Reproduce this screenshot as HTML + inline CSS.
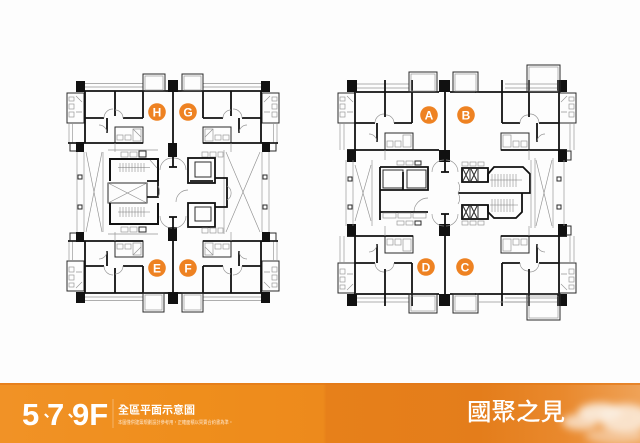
<!DOCTYPE html>
<html><head><meta charset="utf-8">
<style>
html,body{margin:0;padding:0;background:#fdfdfd;}
svg{display:block;}
.k{stroke:#111;stroke-width:1.8;fill:none;}
.m{stroke:#2a2a2a;stroke-width:1;fill:none;}
.t{stroke:#939393;stroke-width:0.65;fill:none;}
.f{fill:#111;}
</style></head>
<body>
<svg width="640" height="443" viewBox="0 0 640 443" xmlns="http://www.w3.org/2000/svg">
<defs>
<linearGradient id="band" x1="0" y1="0" x2="1" y2="0">
<stop offset="0" stop-color="#f19226"/>
<stop offset="0.3" stop-color="#ef8e1c"/>
<stop offset="0.505" stop-color="#ed8a1c"/>
<stop offset="0.51" stop-color="#e7801a"/>
<stop offset="0.75" stop-color="#e47d1b"/>
<stop offset="0.88" stop-color="#e9892d"/>
<stop offset="1" stop-color="#efa257"/>
</linearGradient>
<filter id="blur" x="-50%" y="-50%" width="200%" height="200%"><feGaussianBlur stdDeviation="4"/></filter>

<g id="LQ">
<line class="t" x1="85" y1="83.5" x2="143" y2="83.5"/>
<line class="t" x1="85" y1="87" x2="143" y2="87"/>
<line class="k" x1="84" y1="91" x2="168" y2="91"/>
<rect class="f" x="76" y="81" width="9" height="11"/>
<rect class="m" x="67" y="93" width="17" height="30"/>
<rect class="t" x="69" y="97" width="5" height="4"/>
<rect class="t" x="69" y="104" width="5" height="5"/>
<rect class="t" x="69" y="112" width="5" height="5"/>
<path class="t" d="M76 96 L82 102 M76 112 h6"/>
<line class="t" x1="69" y1="123" x2="69" y2="143"/>
<line class="t" x1="72.5" y1="123" x2="72.5" y2="143"/>
<line class="k" x1="85" y1="91" x2="85" y2="143"/>
<line class="k" x1="115" y1="91" x2="115" y2="116"/>
<line class="k" x1="85" y1="118" x2="104" y2="118"/>
<line class="k" x1="123" y1="118" x2="143" y2="118"/>
<line class="k" x1="143" y1="91" x2="143" y2="118"/>
<line class="k" x1="107" y1="118" x2="107" y2="133"/>
<path class="t" d="M104 118 A9 9 0 0 1 113 109 M123 118 A8 8 0 0 0 115 110 M107 133 A8 8 0 0 0 99 125"/>
<rect class="m" x="115" y="127" width="28" height="16"/>
<rect class="t" x="117" y="135" width="6" height="5"/>
<rect class="t" x="125" y="135" width="6" height="5"/>
<rect class="t" x="133" y="129" width="8" height="12"/>
<path class="t" d="M133 129 L141 137"/>
<line class="k" x1="68" y1="143" x2="143" y2="143"/>
<rect class="f" x="76" y="142" width="8" height="10"/>
<path class="m" d="M76 143 H70 V151 H76"/>
<line class="t" x1="115" y1="143" x2="115" y2="152"/>
</g>

<g id="RQ">
<line class="t" x1="357" y1="84" x2="409" y2="84"/>
<line class="t" x1="357" y1="88" x2="409" y2="88"/>
<line class="k" x1="356" y1="92" x2="439" y2="92"/>
<rect class="f" x="347" y="80" width="10" height="12"/>
<rect class="m" x="338" y="93" width="17" height="30"/>
<rect class="t" x="340" y="97" width="5" height="4"/>
<rect class="t" x="340" y="104" width="5" height="5"/>
<rect class="t" x="340" y="112" width="5" height="5"/>
<path class="t" d="M347 96 L353 102 M347 112 h6"/>
<line class="t" x1="340" y1="123" x2="340" y2="150"/>
<line class="t" x1="344" y1="123" x2="344" y2="150"/>
<line class="k" x1="355" y1="92" x2="355" y2="150"/>
<line class="k" x1="385" y1="80" x2="385" y2="117"/>
<line class="k" x1="355" y1="123" x2="375" y2="123"/>
<line class="k" x1="412" y1="80" x2="412" y2="123"/>
<line class="k" x1="394" y1="123" x2="412" y2="123"/>
<line class="k" x1="377" y1="123" x2="377" y2="142"/>
<path class="t" d="M375 123 A9 9 0 0 1 384 114 M394 123 A8 8 0 0 0 386 115 M377 142 A8 8 0 0 0 369 134"/>
<rect class="m" x="385" y="133" width="28" height="17"/>
<rect class="t" x="387" y="141" width="6" height="6"/>
<rect class="t" x="395" y="141" width="6" height="6"/>
<rect class="t" x="403" y="135" width="8" height="12"/>
<line class="k" x1="347" y1="150" x2="413" y2="150"/>
<rect class="f" x="347" y="150" width="9" height="12"/>
<line class="t" x1="385" y1="150" x2="385" y2="160"/>
</g>
</defs>

<rect x="0" y="0" width="640" height="383" fill="#fdfdfd"/>

<!-- LEFT PLAN -->
<use href="#LQ"/>
<use href="#LQ" transform="translate(346,0) scale(-1,1)"/>
<use href="#LQ" transform="translate(0,384) scale(1,-1)"/>
<use href="#LQ" transform="translate(346,384) scale(-1,-1)"/>

<rect class="m" x="143" y="74" width="22" height="17"/>
<rect class="t" x="145" y="76" width="18" height="14"/>
<rect class="m" x="182" y="74" width="21" height="17"/>
<rect class="t" x="184" y="76" width="17" height="14"/>
<rect class="m" x="143" y="293" width="21" height="19"/>
<rect class="t" x="145" y="295" width="17" height="15"/>
<rect class="m" x="182" y="293" width="21" height="19"/>
<rect class="t" x="184" y="295" width="17" height="15"/>

<line class="k" x1="173" y1="91" x2="173" y2="167"/>
<rect class="f" x="168" y="80" width="10" height="12"/>
<rect class="f" x="168" y="143" width="9" height="14"/>
<line class="k" x1="169" y1="167" x2="177" y2="167"/>
<line class="k" x1="173" y1="217" x2="173" y2="293"/>
<rect class="f" x="168" y="292" width="10" height="12"/>
<rect class="f" x="168" y="227" width="9" height="14"/>
<line class="k" x1="169" y1="217" x2="177" y2="217"/>

<line class="t" x1="77" y1="152" x2="77" y2="232"/>
<line class="t" x1="84" y1="152" x2="84" y2="232"/>
<line class="t" x1="103" y1="152" x2="103" y2="232"/>
<path class="t" d="M86 152 L102 232 M102 152 L86 232"/>
<rect class="m" x="78" y="175" width="4" height="4"/>
<rect class="m" x="78" y="205" width="4" height="4"/>
<line class="t" x1="224" y1="150" x2="224" y2="234"/>
<line class="t" x1="262" y1="152" x2="262" y2="232"/>
<line class="t" x1="269" y1="152" x2="269" y2="232"/>
<path class="t" d="M226 152 L260 232 M260 152 L226 232"/>
<rect class="m" x="263" y="175" width="4" height="4"/>
<rect class="m" x="263" y="205" width="4" height="4"/>

<line class="t" x1="108" y1="150" x2="158" y2="150"/>
<rect class="t" x="121" y="152" width="7" height="5"/>
<rect class="t" x="130" y="152" width="7" height="5"/>
<rect class="m" x="139" y="151" width="7" height="6"/>
<path d="M110 181 V159 H158 V181" fill="none" stroke="#111" stroke-width="2"/>
<path class="t" d="M150 160 L157 168"/>
<g stroke="#777" stroke-width="0.5">
<line x1="118" y1="167.5" x2="150" y2="167.5"/>
<line x1="120" y1="163" x2="120" y2="172"/><line x1="123" y1="163" x2="123" y2="172"/><line x1="126" y1="163" x2="126" y2="172"/><line x1="129" y1="163" x2="129" y2="172"/><line x1="132" y1="163" x2="132" y2="172"/><line x1="135" y1="163" x2="135" y2="172"/><line x1="138" y1="163" x2="138" y2="172"/><line x1="141" y1="163" x2="141" y2="172"/><line x1="144" y1="163" x2="144" y2="172"/>
<line x1="118" y1="212" x2="150" y2="212"/>
<line x1="120" y1="207" x2="120" y2="217"/><line x1="123" y1="207" x2="123" y2="217"/><line x1="126" y1="207" x2="126" y2="217"/><line x1="129" y1="207" x2="129" y2="217"/><line x1="132" y1="207" x2="132" y2="217"/><line x1="135" y1="207" x2="135" y2="217"/><line x1="138" y1="207" x2="138" y2="217"/><line x1="141" y1="207" x2="141" y2="217"/><line x1="144" y1="207" x2="144" y2="217"/>
</g>
<rect class="m" x="108" y="183" width="39" height="20"/>
<path class="t" d="M108 183 L147 203 M147 183 L108 203"/>
<path class="k" d="M147 181 H158 V197 H147"/>
<path d="M110 203 V224 H158 V203" fill="none" stroke="#111" stroke-width="2"/>
<rect class="t" x="121" y="227" width="7" height="5"/>
<rect class="t" x="130" y="227" width="7" height="5"/>
<rect class="m" x="139" y="227" width="7" height="5"/>
<line class="t" x1="108" y1="234" x2="158" y2="234"/>

<rect class="t" x="202" y="152" width="6" height="5"/>
<rect class="t" x="210" y="152" width="6" height="5"/>
<rect class="t" x="218" y="152" width="5" height="5"/>
<rect class="k" x="188" y="158" width="27" height="25"/>
<rect class="m" x="195" y="162" width="16" height="15"/>
<line class="k" x1="190" y1="181" x2="213" y2="181"/>
<path class="k" d="M215 178 H227 V207 H215"/>
<path class="t" d="M227 186 A8 8 0 0 1 227 200"/>
<path class="t" d="M188 190 A12 12 0 0 0 176 202"/>
<rect class="k" x="188" y="203" width="27" height="24"/>
<rect class="m" x="195" y="207" width="16" height="14"/>
<rect class="t" x="202" y="228" width="6" height="5"/>
<rect class="t" x="210" y="228" width="6" height="5"/>
<rect class="t" x="218" y="228" width="5" height="5"/>
<path class="t" d="M160 170 A12 12 0 0 1 172 158 M186 170 A12 12 0 0 0 174 158 M160 216 A12 12 0 0 0 172 228 M186 216 A12 12 0 0 1 174 228 M158 186 A10 10 0 0 1 158 197"/>

<g font-family="Liberation Sans, sans-serif" font-weight="bold" font-size="12" fill="#fff" text-anchor="middle">
<circle cx="157" cy="112" r="8.8" fill="#ee8222"/><text x="157" y="116.3">H</text>
<circle cx="188" cy="112" r="8.8" fill="#ee8222"/><text x="188" y="116.3">G</text>
<circle cx="157" cy="268" r="8.8" fill="#ee8222"/><text x="157" y="272.3">E</text>
<circle cx="188" cy="268" r="8.8" fill="#ee8222"/><text x="188" y="272.3">F</text>
</g>

<!-- RIGHT PLAN -->
<use href="#RQ"/>
<use href="#RQ" transform="translate(914,0) scale(-1,1)"/>
<use href="#RQ" transform="translate(0,386) scale(1,-1)"/>
<use href="#RQ" transform="translate(914,386) scale(-1,-1)"/>
<line class="k" x1="450" y1="92" x2="476" y2="92"/>
<line class="k" x1="450" y1="294" x2="476" y2="294"/>
<line class="k" x1="413" y1="150" x2="439" y2="150"/>

<rect class="m" x="409" y="72" width="28" height="20"/>
<rect class="t" x="411" y="74" width="24" height="17"/>
<rect class="m" x="453" y="72" width="25" height="20"/>
<rect class="t" x="455" y="74" width="21" height="17"/>
<rect class="m" x="527" y="65" width="33" height="27"/>
<rect class="t" x="529" y="67" width="29" height="24"/>
<rect class="m" x="409" y="294" width="28" height="19"/>
<rect class="t" x="411" y="296" width="24" height="15"/>
<rect class="m" x="453" y="294" width="25" height="19"/>
<rect class="t" x="455" y="296" width="21" height="15"/>
<rect class="m" x="527" y="294" width="33" height="26"/>
<rect class="t" x="529" y="296" width="29" height="22"/>
<line class="t" x1="478" y1="302" x2="527" y2="302"/>

<line class="k" x1="445" y1="91" x2="445" y2="172"/>
<rect class="f" x="439" y="80" width="11" height="12"/>
<rect class="f" x="439" y="150" width="11" height="12"/>
<line class="k" x1="441" y1="172" x2="449" y2="172"/>
<line class="k" x1="445" y1="214" x2="445" y2="295"/>
<rect class="f" x="439" y="294" width="11" height="12"/>
<rect class="f" x="439" y="224" width="11" height="12"/>
<line class="k" x1="441" y1="214" x2="449" y2="214"/>

<line class="t" x1="346" y1="160" x2="346" y2="226"/>
<line class="t" x1="353" y1="160" x2="353" y2="226"/>
<line class="t" x1="372" y1="160" x2="372" y2="226"/>
<path class="t" d="M355 165 L371 221 M371 165 L355 221"/>
<rect class="m" x="348" y="177" width="4" height="4"/>
<rect class="m" x="348" y="205" width="4" height="4"/>
<rect class="t" x="397" y="161" width="7" height="4"/>
<rect class="t" x="406" y="161" width="7" height="4"/>
<rect class="m" x="415" y="161" width="6" height="4"/>
<line class="k" x1="380" y1="167" x2="380" y2="220"/>
<path class="k" d="M380 167 H428 V190 H380"/>
<rect class="m" x="383" y="170" width="20" height="18"/>
<rect class="m" x="407" y="170" width="19" height="18"/>
<line class="k" x1="403" y1="172" x2="403" y2="190"/>
<path class="t" d="M428 198 A14 14 0 0 0 414 212"/>
<line class="k" x1="380" y1="212" x2="428" y2="212"/>
<rect class="t" x="383" y="213" width="13" height="5"/>
<rect class="t" x="398" y="213" width="13" height="5"/>
<rect class="t" x="413" y="213" width="13" height="5"/>
<rect class="t" x="397" y="221" width="7" height="4"/>
<rect class="t" x="406" y="221" width="7" height="4"/>
<rect class="m" x="415" y="221" width="6" height="4"/>

<rect class="t" x="462" y="162" width="6" height="4"/>
<rect class="t" x="470" y="162" width="6" height="4"/>
<rect class="t" x="478" y="162" width="6" height="4"/>
<rect class="k" x="462" y="168" width="26" height="14"/>
<path class="m" d="M470 168 V182 M478 168 V182 M463 169 L469 181 M469 169 L463 181 M471 169 L477 181 M477 169 L471 181"/>
<path d="M488 182 V174 L494 167 H523 L530 174 V193" fill="none" stroke="#111" stroke-width="1.8"/>
<line class="k" x1="458" y1="193" x2="531" y2="193"/>
<path d="M488 205 V212 L494 218 H516 L522 212 V193" fill="none" stroke="#111" stroke-width="1.8"/>
<rect class="k" x="462" y="205" width="26" height="14"/>
<path class="m" d="M470 205 V219 M478 205 V219 M463 206 L469 218 M469 206 L463 218 M471 206 L477 218 M477 206 L471 218"/>
<rect class="t" x="462" y="221" width="6" height="4"/>
<rect class="t" x="470" y="221" width="6" height="4"/>
<rect class="t" x="478" y="221" width="6" height="4"/>
<g stroke="#777" stroke-width="0.5">
<line x1="490" y1="180" x2="522" y2="180"/>
<line x1="492" y1="174" x2="492" y2="187"/><line x1="495" y1="174" x2="495" y2="187"/><line x1="498" y1="174" x2="498" y2="187"/><line x1="501" y1="174" x2="501" y2="187"/><line x1="504" y1="174" x2="504" y2="187"/><line x1="507" y1="174" x2="507" y2="187"/><line x1="510" y1="174" x2="510" y2="187"/><line x1="513" y1="174" x2="513" y2="187"/><line x1="516" y1="174" x2="516" y2="187"/>
<line x1="490" y1="205" x2="518" y2="205"/>
<line x1="492" y1="199" x2="492" y2="212"/><line x1="495" y1="199" x2="495" y2="212"/><line x1="498" y1="199" x2="498" y2="212"/><line x1="501" y1="199" x2="501" y2="212"/><line x1="504" y1="199" x2="504" y2="212"/><line x1="507" y1="199" x2="507" y2="212"/><line x1="510" y1="199" x2="510" y2="212"/><line x1="513" y1="199" x2="513" y2="212"/>
</g>
<line class="t" x1="531" y1="160" x2="531" y2="228"/>
<line class="t" x1="535" y1="158" x2="535" y2="228"/>
<line class="t" x1="553" y1="158" x2="553" y2="228"/>
<line class="t" x1="564" y1="160" x2="564" y2="226"/>
<path class="t" d="M536 160 L552 226 M552 160 L536 226"/>
<rect class="m" x="557" y="177" width="4" height="4"/>
<rect class="m" x="557" y="205" width="4" height="4"/>
<path class="m" d="M566 151 H571 V160 H566 M566 226 H571 V235 H566"/>
<path class="t" d="M432 172 A12 12 0 0 1 444 160 M458 172 A12 12 0 0 0 446 160 M432 214 A12 12 0 0 0 444 226 M458 214 A12 12 0 0 1 446 226 M458 182 A10 10 0 0 1 458 193 M458 193 A10 10 0 0 1 458 204"/>

<g font-family="Liberation Sans, sans-serif" font-weight="bold" font-size="12" fill="#fff" text-anchor="middle">
<circle cx="429" cy="115" r="8.8" fill="#ee8222"/><text x="429" y="119.3">A</text>
<circle cx="466" cy="115" r="8.8" fill="#ee8222"/><text x="466" y="119.3">B</text>
<circle cx="426" cy="267" r="8.8" fill="#ee8222"/><text x="426" y="271.3">D</text>
<circle cx="465" cy="267" r="8.8" fill="#ee8222"/><text x="465" y="271.3">C</text>
</g>

<!-- ORANGE BAND -->
<rect x="0" y="383" width="640" height="60" fill="url(#band)"/>
<rect x="0" y="383" width="640" height="2" fill="#e2791a" opacity="0.7"/>
<g filter="url(#blur)" fill="#fbeee0">
<ellipse cx="600" cy="412" rx="22" ry="9" opacity="0.9"/>
<ellipse cx="625" cy="418" rx="26" ry="14" opacity="0.85"/>
<ellipse cx="580" cy="422" rx="18" ry="8" opacity="0.75"/>
<ellipse cx="615" cy="436" rx="30" ry="8" opacity="0.5"/>
</g>

<g font-family="Liberation Sans, 'Noto Sans CJK TC', sans-serif" fill="#fff">
<text font-size="31" font-weight="bold" y="425"><tspan x="22">5</tspan><tspan x="39" y="421" font-size="15" font-family="'Noto Sans CJK TC', sans-serif">、</tspan><tspan x="47" y="425">7</tspan><tspan x="63" y="421" font-size="15" font-family="'Noto Sans CJK TC', sans-serif">、</tspan><tspan x="72" y="425">9F</tspan></text>
<line x1="113" y1="399" x2="113" y2="428" stroke="#f7c58a" stroke-width="0.7"/>
<text x="118" y="413.5" font-size="11" font-weight="bold" font-family="'Noto Sans CJK TC', sans-serif" textLength="77" lengthAdjust="spacingAndGlyphs">全區平面示意圖</text>
<text x="118" y="424" font-size="5" font-family="'Noto Sans CJK TC', sans-serif" textLength="115" lengthAdjust="spacingAndGlyphs" fill="#fde6cc">本圖僅供建築規劃設計參考用，正確面積以買賣合約書為準。</text>
<text x="467" y="420" font-size="24" font-weight="500" font-family="'Noto Sans CJK TC', sans-serif" textLength="98" lengthAdjust="spacingAndGlyphs">國聚之見</text>
</g>
</svg>
</body></html>
